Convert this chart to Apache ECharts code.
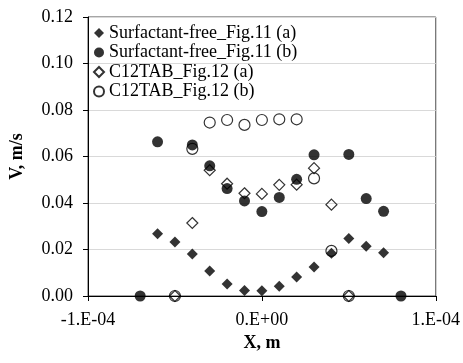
<!DOCTYPE html>
<html><head><meta charset="utf-8">
<script src="https://cdn.jsdelivr.net/npm/echarts@6/dist/echarts.min.js"></script>
<style>html,body{margin:0;padding:0;background:#fff}#c{width:463px;height:363px}</style>
</head><body><div id="c"></div>
<script>
// x positions in units of 1e-5 m
const xa = [-6,-5,-4,-3,-2,-1,0,1,2,3,4,5,6,7];
const ya = [0.0268,0.0232,0.0181,0.0108,0.0052,0.0024,0.0023,0.0042,0.0082,0.0125,0.0184,0.0247,0.0214,0.0186];
const xb = [-7,-6,-4,-3,-2,-1,0,1,2,3,5,6,7,8];
const yb = [0,0.0663,0.065,0.056,0.0462,0.0409,0.0363,0.0424,0.0502,0.0607,0.0609,0.0419,0.0364,0];
const xc = [-5,-4,-3,-2,-1,0,1,2,3,4,5];
const yc = [0,0.0314,0.0541,0.0483,0.0442,0.0439,0.0478,0.0479,0.055,0.0393,0];
const xd = [-5,-4,-3,-2,-1,0,1,2,3,4,5];
const yd = [0,0.0633,0.0746,0.0757,0.0736,0.0757,0.076,0.076,0.0506,0.0194,0];
const names = ['Surfactant-free_Fig.11 (a)','Surfactant-free_Fig.11 (b)','C12TAB_Fig.12 (a)','C12TAB_Fig.12 (b)'];
const xTicks = {'-1':'-1.E-04','0':'0.E+00','1':'1.E-04'};

const F = 'Liberation Serif, Times New Roman, serif';
const pts = (xs, ys) => xs.map((x,i)=>[x*1e-5, ys[i]]);
const chart = echarts.init(document.getElementById('c'));
const filled = {color:'#000'};
const open = {color:'transparent', borderColor:'#000', borderWidth:1.2};
chart.setOption({
  animation:false,
  grid:{left:87,right:27,top:17,bottom:67,show:true,borderColor:'#4d4d4d',borderWidth:1},
  legend:{orient:'vertical',left:88,top:19,itemGap:1.5,itemWidth:10,itemHeight:10,
    textStyle:{fontFamily:F,fontSize:18,color:'#000'},data:names},
  xAxis:{type:'value',min:-1e-4,max:1e-4,interval:1e-4,
    name:'X, m',nameLocation:'middle',nameGap:37,
    nameTextStyle:{fontFamily:F,fontSize:18,fontWeight:'bold',color:'#000'},
    axisLine:{onZero:false,lineStyle:{color:'#000',width:1}},
    axisTick:{show:true,length:5,inside:false,lineStyle:{color:'#000'}},
    axisLabel:{margin:15,fontFamily:F,fontSize:18,color:'#000',
      formatter:v=>{const k=String(Math.round(v*1e4));return xTicks[k]!==undefined?xTicks[k]:'';}},
    splitLine:{show:false}},
  yAxis:{type:'value',min:0,max:0.12,interval:0.02,
    name:'V, m/s',nameLocation:'middle',nameGap:62,nameRotate:90,
    nameTextStyle:{fontFamily:F,fontSize:18,fontWeight:'bold',color:'#000'},
    axisLine:{show:true,onZero:false,lineStyle:{color:'#000',width:1}},
    axisTick:{show:true,length:5,lineStyle:{color:'#000'}},
    axisLabel:{margin:15,fontFamily:F,fontSize:18,color:'#000',formatter:v=>v.toFixed(2)},
    splitLine:{show:true,lineStyle:{color:'#d9d9d9',width:1}}},
  series:[
    {name:names[0],type:'scatter',symbol:'diamond',symbolSize:11,itemStyle:filled,data:pts(xa,ya)},
    {name:names[1],type:'scatter',symbol:'circle',symbolSize:11,itemStyle:filled,data:pts(xb,yb)},
    {name:names[2],type:'scatter',symbol:'diamond',symbolSize:11,itemStyle:open,data:pts(xc,yc)},
    {name:names[3],type:'scatter',symbol:'circle',symbolSize:11,itemStyle:open,data:pts(xd,yd)}
  ]
});
</script></body></html>
